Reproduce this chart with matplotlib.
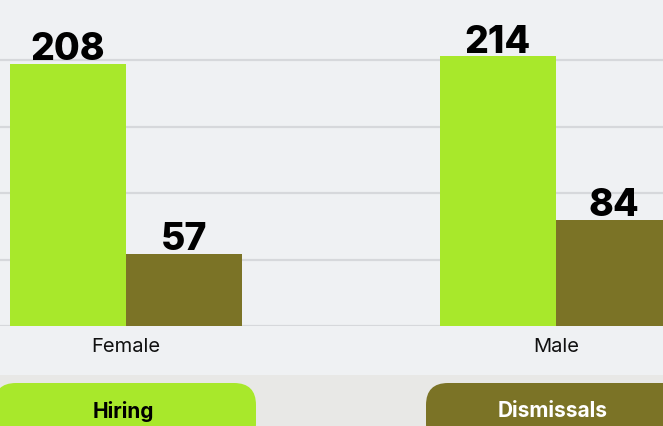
import numpy as np
import matplotlib
matplotlib.use("Agg")
import matplotlib.pyplot as plt
from matplotlib.patches import FancyBboxPatch

categories = ["Female", "Male"]
hiring = [208, 214]
dismissals = [57, 84]
series_names = ["Hiring", "Dismissals"]

GREEN = "#a8e82b"
OLIVE = "#7b7326"
BG = "#eff1f3"
BAND = "#e8e8e6"
GRID = "#d6d8db"

plt.rcParams["font.family"] = ["Inter", "DejaVu Sans"]

W, H = 663, 426
fig = plt.figure(figsize=(W / 100, H / 100), dpi=100, facecolor=BG)

# main plot area: baseline at 326 px from top
base_px = 326
ax = fig.add_axes([0, 1 - base_px / H, 1, base_px / H])
ax.set_facecolor(BG)

x = np.arange(len(categories))
group_gap_px = 430
w = 116 / group_gap_px
ax.set_xlim(-126 / group_gap_px, (W - 126) / group_gap_px)
px_per_unit = 1.26
ax.set_ylim(0, base_px / px_per_unit)

b1 = ax.bar(x - w / 2, hiring, w, color=GREEN, zorder=3)
b2 = ax.bar(x + w / 2, dismissals, w, color=OLIVE, zorder=3)
for bars in (b1, b2):
    ax.bar_label(bars, padding=-3, fontsize=27, fontweight="heavy", color="black")

step = 66.5 / px_per_unit
ax.set_yticks(np.arange(5) * step)
ax.yaxis.grid(True, color=GRID, linewidth=1.6, zorder=0)
ax.tick_params(axis="y", left=False, labelleft=False)
ax.set_xticks(x, [""] * len(x))
ax.tick_params(axis="x", length=0)
for s in ax.spines.values():
    s.set_visible(False)

# category labels under each group
for xi, name in zip(x, categories):
    ax.text(xi, -21 / px_per_unit, name, ha="center", va="center",
            fontsize=14.5, color="#111111", clip_on=False)

# bottom legend band
band_h = H - 375
lax = fig.add_axes([0, 0, 1, band_h / H])
lax.set_xlim(0, W)
lax.set_ylim(0, band_h)
lax.axis("off")
lax.add_patch(plt.Rectangle((0, 0), W, band_h, color=BAND, zorder=0))

pills = [(-6, 262, GREEN), (426, 300, OLIVE)]
for (x0, pw, col), name in zip(pills, series_names):
    lax.add_patch(FancyBboxPatch((x0, -20), pw, 63,
                                 boxstyle="round,pad=0,rounding_size=22",
                                 facecolor=col, edgecolor="none", zorder=2))
centers = [123, 553]
for cx, name, tcol in zip(centers, series_names, ["black", "white"]):
    lax.text(cx, 15, name, ha="center", va="center", fontsize=15,
             fontweight="bold", color=tcol, zorder=3)

fig.savefig("out.png", dpi=100, facecolor=BG)
